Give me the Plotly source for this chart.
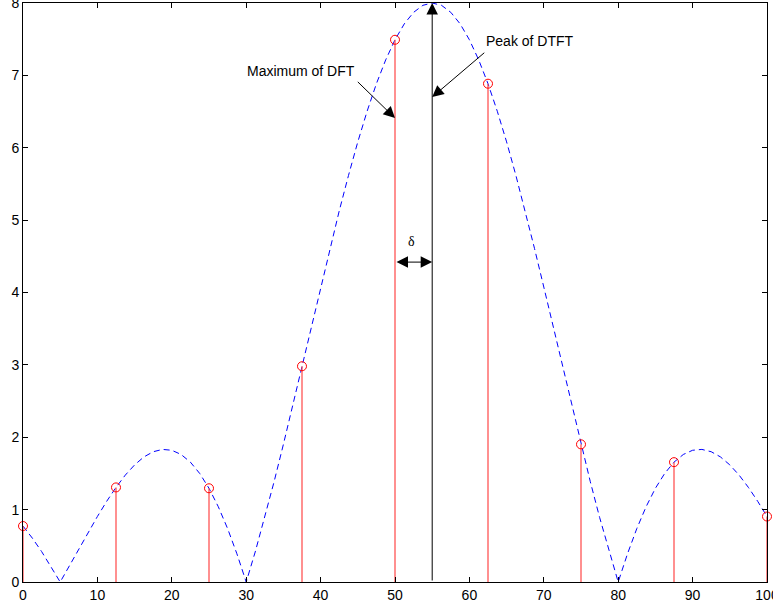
import plotly.graph_objects as go

# DTFT magnitude samples (dashed curve), x = 0..100 step 1.25
curve_y = [0.773, 0.607, 0.421, 0.217, 0.0, 0.226, 0.455, 0.683, 0.905, 1.115,
           1.307, 1.477, 1.618, 1.728, 1.800, 1.832, 1.820, 1.762, 1.656, 1.500,
           1.295, 1.040, 0.738, 0.390, 0.0, 0.429, 0.893, 1.386, 1.902, 2.436,
           2.981, 3.529, 4.075, 4.609, 5.126, 5.618, 6.081, 6.504, 6.885, 7.214,
           7.492, 7.712, 7.871, 7.968, 8.0, 7.968, 7.871, 7.712, 7.492, 7.214,
           6.885, 6.504, 6.081, 5.618, 5.126, 4.609, 4.075, 3.529, 2.981, 2.436,
           1.902, 1.386, 0.893, 0.429, 0.0, 0.390, 0.738, 1.040, 1.295, 1.500,
           1.656, 1.762, 1.820, 1.832, 1.800, 1.728, 1.618, 1.477, 1.307, 1.115,
           0.905]
curve_x = [i * 1.25 for i in range(len(curve_y))]

# DFT samples (stems)
dft_x = [0, 12.5, 25, 37.5, 50, 62.5, 75, 87.5, 100]
dft_y = [0.773, 1.307, 1.295, 2.981, 7.492, 6.885, 1.902, 1.656, 0.905]

peak_x = 55
peak_y = 8
x_ticks = [0, 10, 20, 30, 40, 50, 60, 70, 80, 90, 100]
y_ticks = [0, 1, 2, 3, 4, 5, 6, 7, 8]

stem_x, stem_y = [], []
for xv, yv in zip(dft_x, dft_y):
    stem_x += [xv, xv, None]
    stem_y += [0, yv, None]

fig = go.Figure()
fig.add_trace(go.Scatter(x=curve_x, y=curve_y, mode="lines",
                         line=dict(color="#0000ff", width=1, dash="6px,4px"),
                         hoverinfo="skip"))
fig.add_trace(go.Scatter(x=stem_x, y=stem_y, mode="lines",
                         line=dict(color="rgb(255,70,70)", width=1.2),
                         hoverinfo="skip"))
fig.add_trace(go.Scatter(x=dft_x, y=dft_y, mode="markers",
                         marker=dict(symbol="circle-open", size=9,
                                     color="#ff0000", line=dict(width=1, color="#ff0000")),
                         cliponaxis=False))

annotations = [
    # vertical line with arrow at the DTFT peak
    dict(x=peak_x, y=peak_y, ax=peak_x, ay=0, xref="x", yref="y", axref="x", ayref="y",
         text="", showarrow=True, arrowhead=2, arrowsize=2.3, arrowwidth=1, arrowcolor="black"),
    # delta double arrow
    dict(x=peak_x, y=4.42, ax=dft_x[4], ay=4.42, xref="x", yref="y", axref="x", ayref="y",
         text="", showarrow=True, arrowhead=2, startarrowhead=2, arrowside="end+start",
         arrowsize=2.3, startarrowsize=2.3, arrowwidth=1, arrowcolor="black"),
    dict(x=52.2, y=4.70, xref="x", yref="y", text="δ", showarrow=False,
         font=dict(family="Liberation Serif", size=14, color="black")),
    # Maximum of DFT
    dict(x=dft_x[4], y=6.41, ax=44.8, ay=6.93, xref="x", yref="y", axref="x", ayref="y",
         text="", showarrow=True, arrowhead=2, arrowsize=2.3, arrowwidth=1, arrowcolor="black"),
    dict(x=37.3, y=7.06, xref="x", yref="y", text="Maximum of DFT", showarrow=False,
         font=dict(family="Liberation Sans", size=14, color="black")),
    # Peak of DTFT
    dict(x=peak_x, y=6.70, ax=62.2, ay=7.33, xref="x", yref="y", axref="x", ayref="y",
         text="", showarrow=True, arrowhead=2, arrowsize=2.3, arrowwidth=1, arrowcolor="black"),
    dict(x=68.1, y=7.47, xref="x", yref="y", text="Peak of DTFT", showarrow=False,
         font=dict(family="Liberation Sans", size=14, color="black")),
]

axis_common = dict(showgrid=False, zeroline=False, showline=True, linecolor="black",
                   linewidth=1, mirror="ticks", ticks="inside", ticklen=5, tickwidth=1,
                   tickcolor="black", ticklabeloverflow="allow", automargin=False,
                   tickfont=dict(family="Liberation Sans", size=14, color="black"))

fig.update_layout(
    width=773, height=611, margin=dict(l=23, r=6, t=3, b=29, autoexpand=False),
    paper_bgcolor="white", plot_bgcolor="white", showlegend=False,
    xaxis=dict(range=[0, 100], tickvals=x_ticks, ticktext=[str(t) for t in x_ticks], **axis_common),
    yaxis=dict(range=[0, 8], tickvals=y_ticks, ticktext=[str(t) for t in y_ticks], **axis_common),
    annotations=annotations,
)

fig.write_html("out.html")
